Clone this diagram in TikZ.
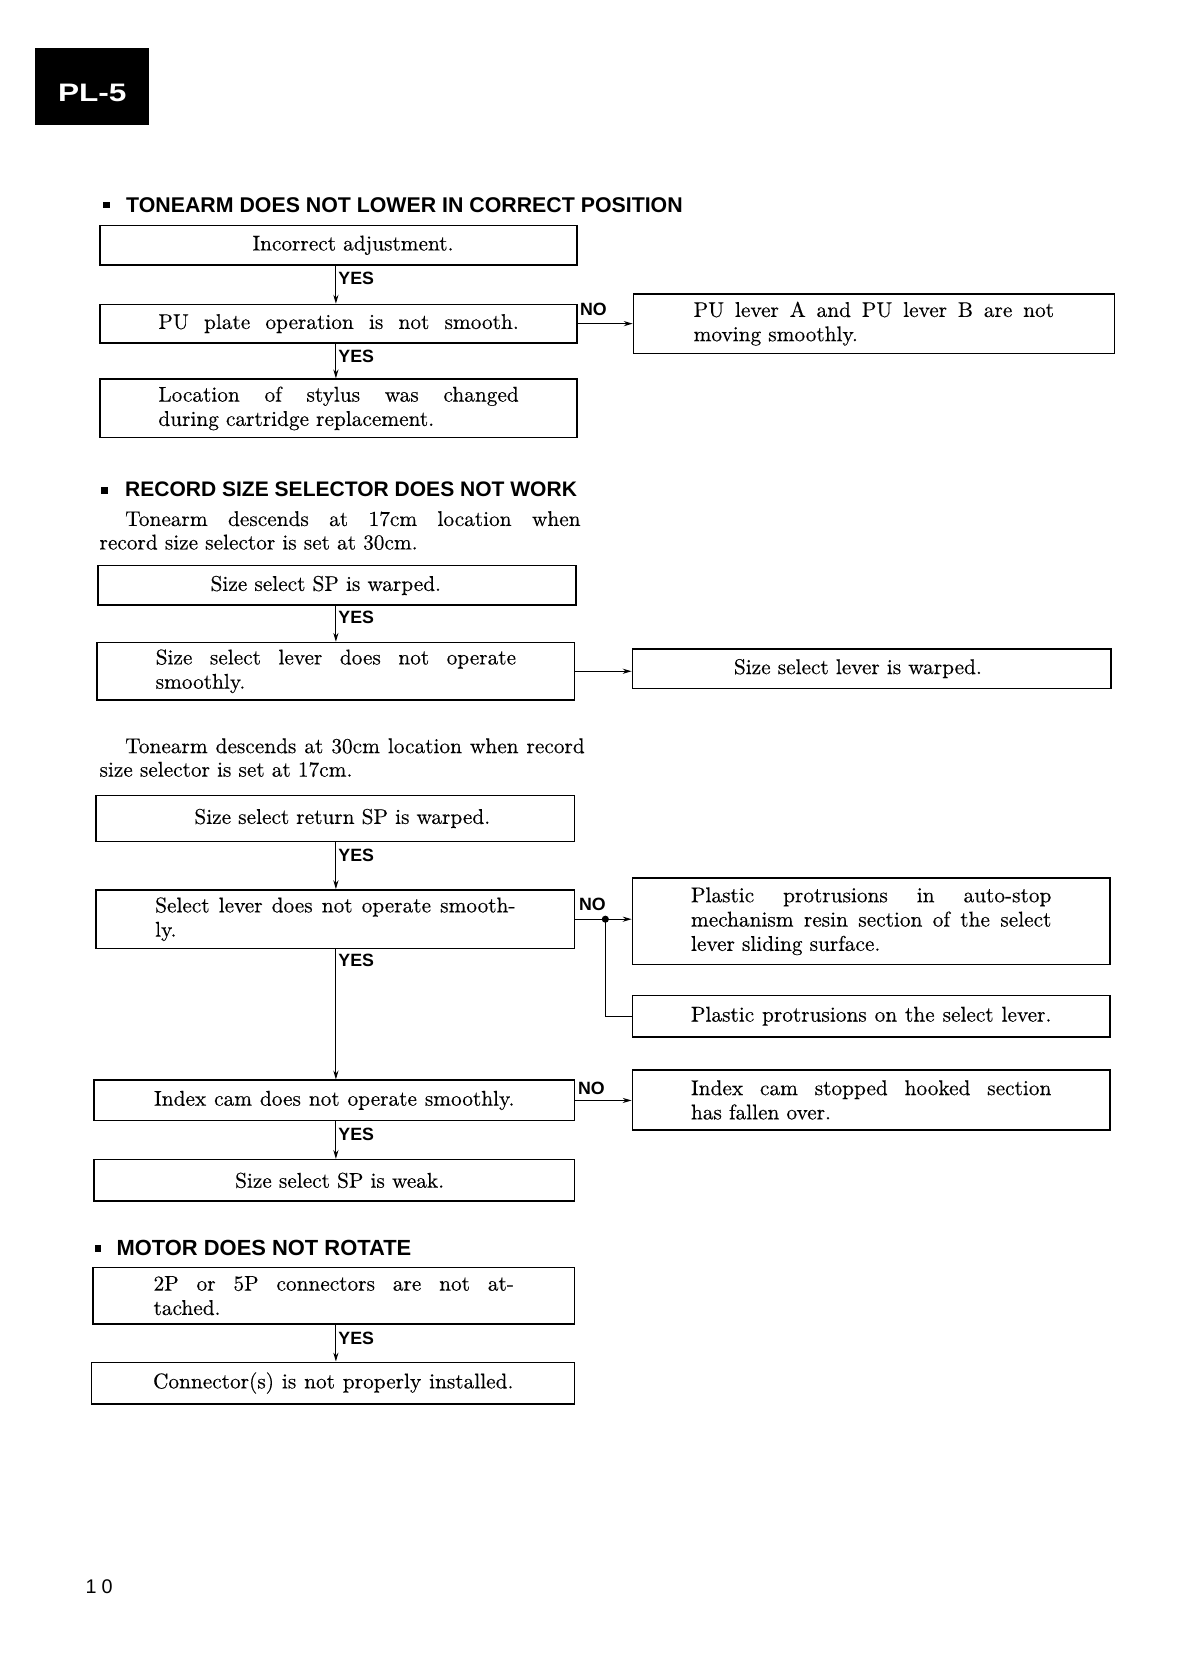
\documentclass[tikz,border=0pt]{standalone}
\usepackage{fontspec}
\newfontfamily\hfont{Liberation Sans}
\newfontfamily\bodyfont{lmroman10-regular.otf}[FakeBold=0.3]
\usetikzlibrary{arrows.meta,calc}
\newlength\textw \setlength\textw{182.5pt}
\newcommand\jline[1]{\leavevmode\hbox to \textw{\spaceskip=0.33em plus 1fil\relax #1}}
\newcommand\jwide[2]{\leavevmode\hbox to #1{\spaceskip=0.33em plus 1fil\relax #2}}
\def\U{*0.54pt}
\begin{document}
\begin{tikzpicture}[x=0.54pt,y=-0.54pt,
  box/.style={draw, line width=0.75pt, rectangle, inner sep=0pt, text width=\textw, align=left, font=\bodyfont\fontsize{10.8}{12.3}\selectfont},
  cbox/.style={box, align=center},
  arr/.style={line width=0.55pt, -{Stealth[length=4.5pt,width=2.6pt]}},
  ln/.style={line width=0.55pt},
  yes/.style={font=\hfont\bfseries\fontsize{9}{10}\selectfont, inner sep=0pt, anchor=west},
  head/.style={font=\hfont\bfseries\fontsize{#1}{13}\selectfont, inner sep=0pt, anchor=base west},
  bul/.style={fill, minimum size=6\U, inner sep=0pt},
  para/.style={inner sep=0pt, anchor=north west, text width=247pt, align=left, font=\bodyfont\fontsize{10.8}{11.9}\selectfont},
  dot/.style={circle, fill, inner sep=0pt, minimum size=3.6pt}
]
\fill[white] (0,0) rectangle (1106,1568);
\useasboundingbox (0,0) rectangle (1106,1568);

% tab
\node[fill=black, minimum width=107\U, minimum height=72\U, inner sep=0pt] (tab) at (86.5,81) {};
\node[text=white, font=\hfont\bfseries\fontsize{12.8}{14}\selectfont, inner sep=0pt] (tabt) at (86.5,87) {\scalebox{1.25}[1]{PL-5}};

\coordinate (ax) at (315,0);

% section 1
\node[bul] (h1b) at (100,192) {};
\node[head=10.8] (h1) at (118,199) {TONEARM DOES NOT LOWER IN CORRECT POSITION};

\node[cbox, minimum width=447\U, minimum height=37\U] (b1) at (317.5,230) {\hspace*{14.6pt}Incorrect adjustment.};
\node[box, minimum width=447\U, minimum height=36\U] (b2) at (317.5,303.5) {\jline{PU plate operation is not smooth.}};
\node[box, minimum width=451\U, minimum height=56\U] (bA) at (819.5,303.5) {\jline{PU lever A and PU lever B are not}\\moving smoothly.};
\node[box, minimum width=447\U, minimum height=55\U] (b3) at (317.5,383) {\jline{Location of stylus was changed}\\during cartridge replacement.};

\draw[arr] (b1.south -| ax) -- (b2.north -| ax);
\node[yes] (y1) at ($(b1.south -| ax)+(2,12)$) {YES};
\draw[arr] (b2.south -| ax) -- (b3.north -| ax);
\node[yes] (y2) at ($(b2.south -| ax)+(2,12)$) {YES};
\draw[arr] (b2.east) -- (b2.east -| bA.west);
\node[yes] (n1) at ($(b2.east)+(2,-13)$) {NO};

% section 2
\node[bul] (h2b) at (98,460) {};
\node[head=10.65] (h2) at (117,466) {RECORD SIZE SELECTOR DOES NOT WORK};
\node[para] (p1) at (93,479) {\hspace*{13pt}\jwide{230.6pt}{Tonearm descends at 17cm location when}\\record size selector is set at 30cm.};

\node[cbox, minimum width=448\U, minimum height=37\U] (b4) at (316,549) {\hspace*{-11.3pt}Size select SP is warped.};
\node[box, minimum width=448\U, minimum height=54\U] (b5) at (315,629.5) {\jline{Size select lever does not operate}\\smoothly.};
\node[cbox, minimum width=449\U, minimum height=37\U] (bB) at (817.5,627) {\hspace*{-14pt}Size select lever is warped.};

\draw[arr] (b4.south -| ax) -- (b5.north -| ax);
\node[yes] (y3) at ($(b4.south -| ax)+(2,11)$) {YES};
\draw[arr] (b5.east) -- (b5.east -| bB.west);

\node[para] (p2) at (93,692) {\hspace*{13pt}\jwide{232.7pt}{Tonearm descends at 30cm location when record}\\size selector is set at 17cm.};

\node[cbox, minimum width=449\U, minimum height=43\U] (b6) at (314.5,767.5) {\hspace*{7pt}Size select return SP is warped.};
\node[box, minimum width=449\U, minimum height=55\U] (b7) at (314.5,862) {\jline{Select lever does not operate smooth-}\\ly.};
\node[box, minimum width=448\U, minimum height=81\U] (bC) at (817,864) {\jline{Plastic protrusions in auto-stop}\\\jline{mechanism resin section of the select}\\lever sliding surface.};
\node[box, minimum width=448\U, minimum height=39\U] (bD) at (817,953) {\jline{Plastic protrusions on the select lever.}};
\node[box, minimum width=451\U, minimum height=38\U] (b8) at (313.5,1032) {\jline{Index cam does not operate smoothly.}};
\node[box, minimum width=448\U, minimum height=56\U] (bE) at (817,1031.5) {\jline{Index cam stopped hooked section}\\has fallen over.};
\node[cbox, minimum width=451\U, minimum height=39\U] (b9) at (313.5,1107) {\hspace*{5.4pt}Size select SP is weak.};

\draw[arr] (b6.south -| ax) -- (b7.north -| ax);
\node[yes] (y4) at ($(b6.south -| ax)+(2,12)$) {YES};
\node[dot] (j1) at ($(b7.east)+(28,0)$) {};
\draw[arr] (b7.east) -- (b7.east -| bC.west);
\node[yes] (n2) at ($(b7.east)+(3,-14)$) {NO};
\draw[ln] (j1.center) |- (bD.west);
\draw[arr] (b7.south -| ax) -- (b8.north -| ax);
\node[yes] (y5) at ($(b7.south -| ax)+(2,10)$) {YES};
\draw[arr] (b8.east) -- (b8.east -| bE.west);
\node[yes] (n3) at ($(b8.east)+(2,-11)$) {NO};
\draw[arr] (b8.south -| ax) -- (b9.north -| ax);
\node[yes] (y6) at ($(b8.south -| ax)+(2,12)$) {YES};

% section 3
\node[bul] (h3b) at (92,1171) {};
\node[head=11.1] (h3) at (109,1177) {MOTOR DOES NOT ROTATE};
\node[box, minimum width=452\U, minimum height=53\U] (b10) at (313,1215) {\jline{2P or 5P connectors are not at-}\\tached.};
\node[box, minimum width=453\U, minimum height=39\U] (b11) at (312.5,1297) {\jline{Connector(s) is not properly installed.}};
\draw[arr] (b10.south -| ax) -- (b11.north -| ax);
\node[yes] (y7) at ($(b10.south -| ax)+(2,13)$) {YES};

% page number
\node[font=\hfont\fontsize{10}{12}\selectfont, inner sep=0pt, anchor=west] (pg) at (80,1488) {1\kern2.5pt0};
\end{tikzpicture}
\end{document}
